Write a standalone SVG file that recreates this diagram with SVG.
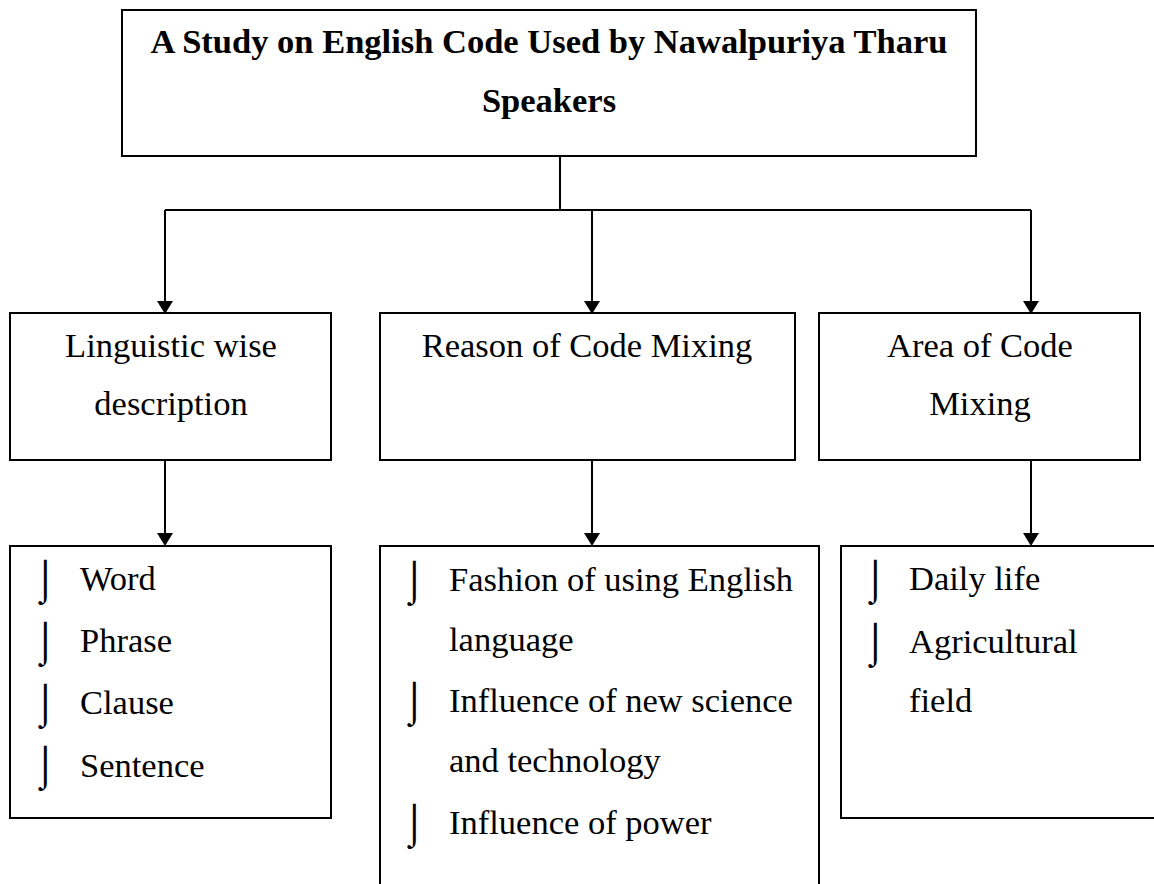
<svg xmlns="http://www.w3.org/2000/svg" width="1154" height="884" viewBox="0 0 1154 884">
<style>
.box{fill:#fff;stroke:#000;stroke-width:2}
.t{font-family:"Liberation Serif","Times New Roman",serif;font-size:34.5px;fill:#000}
.c{text-anchor:middle}
.b{font-weight:bold}
.bul{font-family:"DejaVu Sans",sans-serif;font-size:40px;font-weight:200;fill:#000}
.ln{stroke:#000;stroke-width:2;fill:none}
.ah{fill:#000}
</style>
<rect width="1154" height="884" fill="#fff"/>
<g id="connectors">
<path class="ln" d="M560,156 V210 M165,210 H1031 M165,210 V302 M592,210 V302 M1031,210 V302"/>
<polygon class="ah" points="157,301 173,301 165,314"/>
<polygon class="ah" points="584,301 600,301 592,314"/>
<polygon class="ah" points="1023,301 1039,301 1031,314"/>
<path class="ln" d="M165,460 V534 M592,460 V534 M1031,460 V534"/>
<polygon class="ah" points="157,533 173,533 165,546"/>
<polygon class="ah" points="584,533 600,533 592,546"/>
<polygon class="ah" points="1023,533 1039,533 1031,546"/>
</g>
<g id="title">
<rect class="box" x="122" y="10" width="854" height="146"/>
<text class="t c b" x="549" y="53">A Study on English Code Used by Nawalpuriya Tharu</text>
<text class="t c b" x="549" y="112">Speakers</text>
</g>
<g id="linguistic">
<rect class="box" x="10" y="313" width="321" height="147"/>
<text class="t c" x="171" y="357">Linguistic wise</text>
<text class="t c" x="171" y="415">description</text>
</g>
<g id="reason">
<rect class="box" x="380" y="313" width="415" height="147"/>
<text class="t c" x="587" y="357">Reason of Code Mixing</text>
</g>
<g id="area">
<rect class="box" x="819" y="313" width="321" height="147"/>
<text class="t c" x="980" y="357">Area of Code</text>
<text class="t c" x="980" y="415">Mixing</text>
</g>
<g id="linguistic-list">
<rect class="box" x="10" y="546" width="321" height="272"/>
<text class="bul" x="33" y="593">⌡</text>
<text class="bul" x="33" y="655">⌡</text>
<text class="bul" x="33" y="717">⌡</text>
<text class="bul" x="33" y="779">⌡</text>
<text class="t" x="80" y="590">Word</text>
<text class="t" x="80" y="652">Phrase</text>
<text class="t" x="80" y="714">Clause</text>
<text class="t" x="80" y="777">Sentence</text>
</g>
<g id="reason-list">
<rect class="box" x="380" y="546" width="439" height="350"/>
<text class="bul" x="402" y="594">⌡</text>
<text class="bul" x="402" y="715">⌡</text>
<text class="bul" x="402" y="837">⌡</text>
<text class="t" x="449" y="591">Fashion of using English</text>
<text class="t" x="449" y="651">language</text>
<text class="t" x="449" y="712">Influence of new science</text>
<text class="t" x="449" y="772">and technology</text>
<text class="t" x="449" y="834">Influence of power</text>
</g>
<g id="area-list">
<rect class="box" x="841" y="546" width="330" height="272"/>
<text class="bul" x="863" y="593">⌡</text>
<text class="bul" x="863" y="656">⌡</text>
<text class="t" x="909" y="590">Daily life</text>
<text class="t" x="909" y="653">Agricultural</text>
<text class="t" x="909" y="712">field</text>
</g>
</svg>
